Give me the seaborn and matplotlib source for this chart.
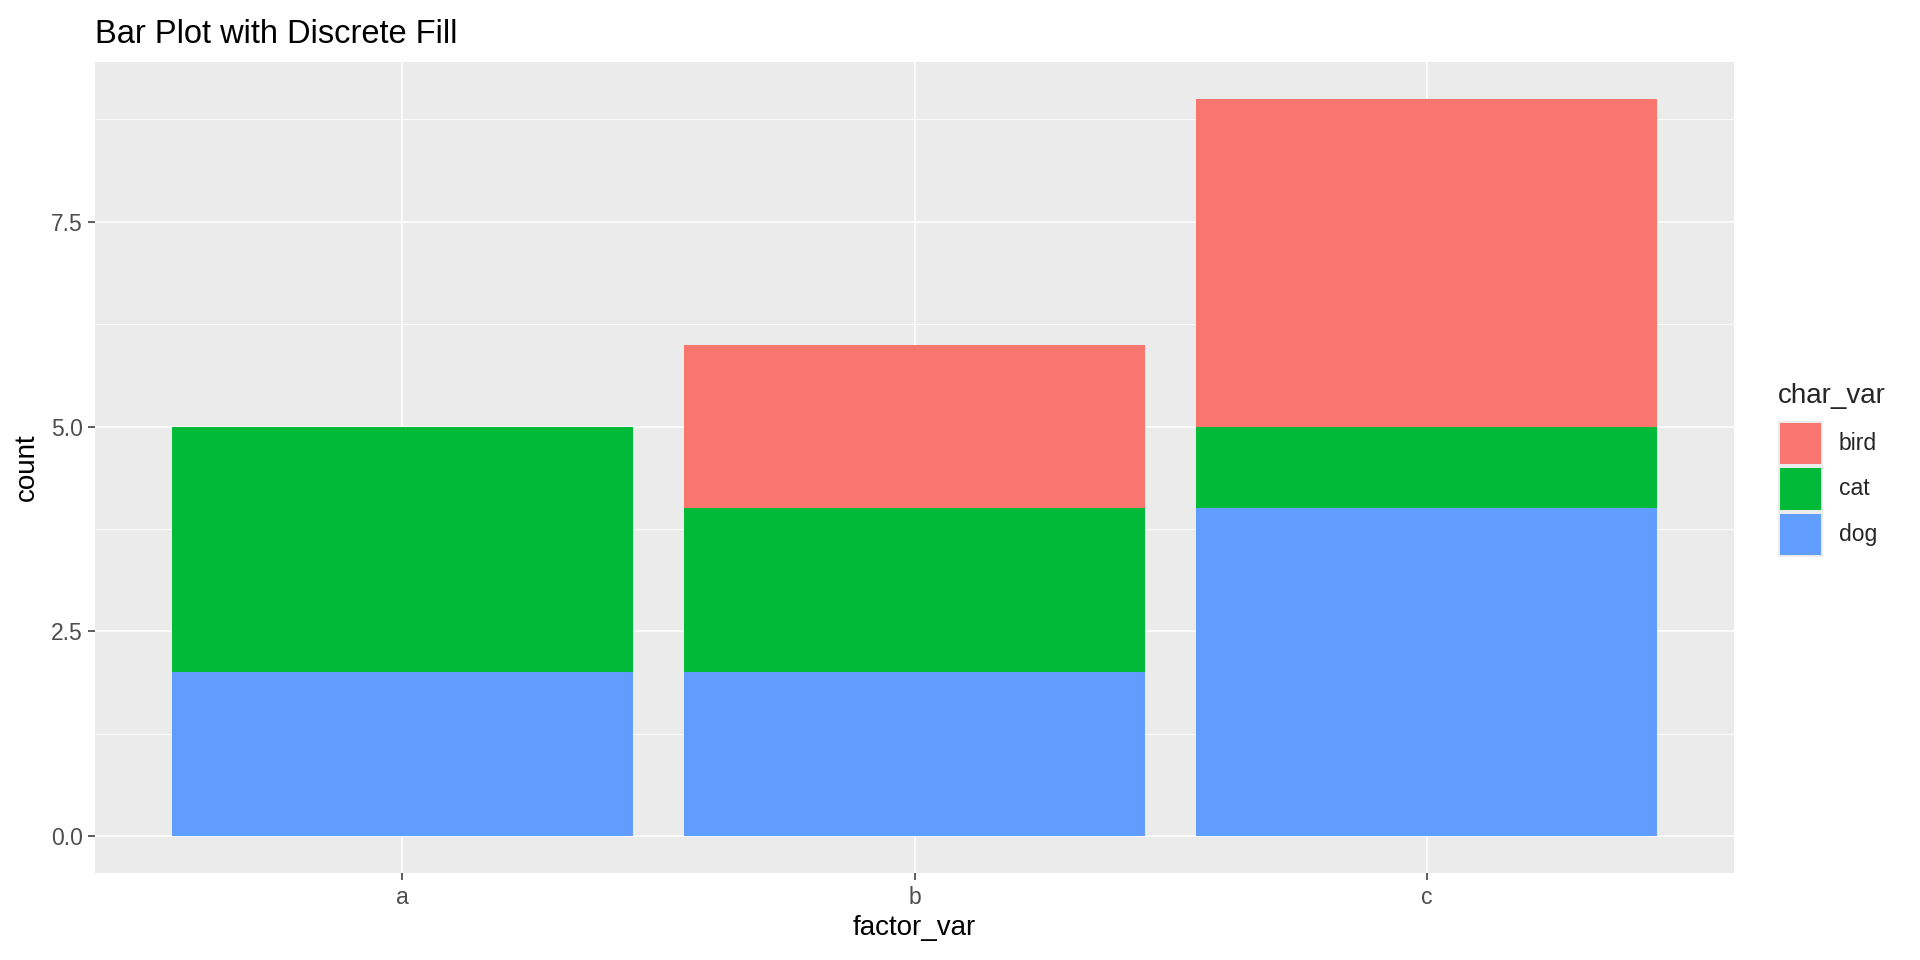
import matplotlib
matplotlib.use("Agg")
import matplotlib.pyplot as plt
from matplotlib.patches import Rectangle
import seaborn as sns
import pandas as pd
import numpy as np

# ---- data ----
categories = ["a", "b", "c"]
fill_levels = ["bird", "cat", "dog"]
dog_counts = [2, 2, 4]
cat_counts = [3, 2, 1]
bird_counts = [0, 2, 4]
fill_colors = {"bird": "#F8766D", "cat": "#00BA38", "dog": "#619CFF"}
y_ticks = [0.0, 2.5, 5.0, 7.5]
y_tick_labels = ["0.0", "2.5", "5.0", "7.5"]
y_minor = [1.25, 3.75, 6.25, 8.75]

sns.set_theme(style="white")
plt.rcParams["font.family"] = ["Liberation Sans", "DejaVu Sans"]

W, H = 1920, 960
fig = plt.figure(figsize=(19.2, 9.6), dpi=100)
left, right, top, bottom = 95, 1734, 62, 873
ax = fig.add_axes([left / W, 1 - bottom / H, (right - left) / W, (bottom - top) / H])

df = pd.DataFrame({"factor_var": categories, "dog": dog_counts, "cat": cat_counts, "bird": bird_counts})
df["top_bird"] = df["dog"] + df["cat"] + df["bird"]
df["top_cat"] = df["dog"] + df["cat"]
df["top_dog"] = df["dog"]

for col, lvl in [("top_bird", "bird"), ("top_cat", "cat"), ("top_dog", "dog")]:
    sns.barplot(data=df, x="factor_var", y=col, order=categories, color=fill_colors[lvl],
                saturation=1, width=0.9, errorbar=None, linewidth=0, ax=ax, zorder=3)

ax.set_facecolor("#EBEBEB")
for s in ax.spines.values():
    s.set_visible(False)
ax.set_xlim(-0.6, 2.6)
ax.set_ylim(-0.45, 9.45)
ax.set_yticks(y_ticks)
ax.set_yticklabels(y_tick_labels)
ax.set_yticks(y_minor, minor=True)
ax.grid(True, which="major", color="white", linewidth=1.1, zorder=0)
ax.grid(True, which="minor", axis="y", color="white", linewidth=0.55, zorder=0)
ax.set_axisbelow(True)
ax.tick_params(axis="both", which="major", length=5, width=1.1, color="#333333",
               labelsize=16.5, labelcolor="#4D4D4D", pad=4, left=True, bottom=True)
ax.tick_params(axis="y", which="minor", length=0)
ax.set_xlabel("factor_var", fontsize=20, color="black", labelpad=5)
ax.set_ylabel("count", fontsize=20, color="black", labelpad=8)
ax.set_title("Bar Plot with Discrete Fill", fontsize=23.5, loc="left", pad=14, color="black")

# ---- legend ----
fig.text(1778 / W, 1 - 403 / H, "char_var", fontsize=20, ha="left", va="baseline")
key_top = 421
key_h = 45.3
for i, lvl in enumerate(fill_levels):
    y0 = key_top + i * key_h
    fig.add_artist(Rectangle((1778 / W, 1 - (y0 + key_h) / H), 45 / W, key_h / H,
                             transform=fig.transFigure, facecolor="#EBEBEB", edgecolor="none"))
    fig.add_artist(Rectangle((1780 / W, 1 - (y0 + key_h - 2) / H), 41 / W, (key_h - 4) / H,
                             transform=fig.transFigure, facecolor=fill_colors[lvl], edgecolor="none"))
    fig.text(1839 / W, 1 - (y0 + key_h / 2) / H, lvl, fontsize=16.5, ha="left", va="center")

fig.savefig("out.png", dpi=100, facecolor="white")
